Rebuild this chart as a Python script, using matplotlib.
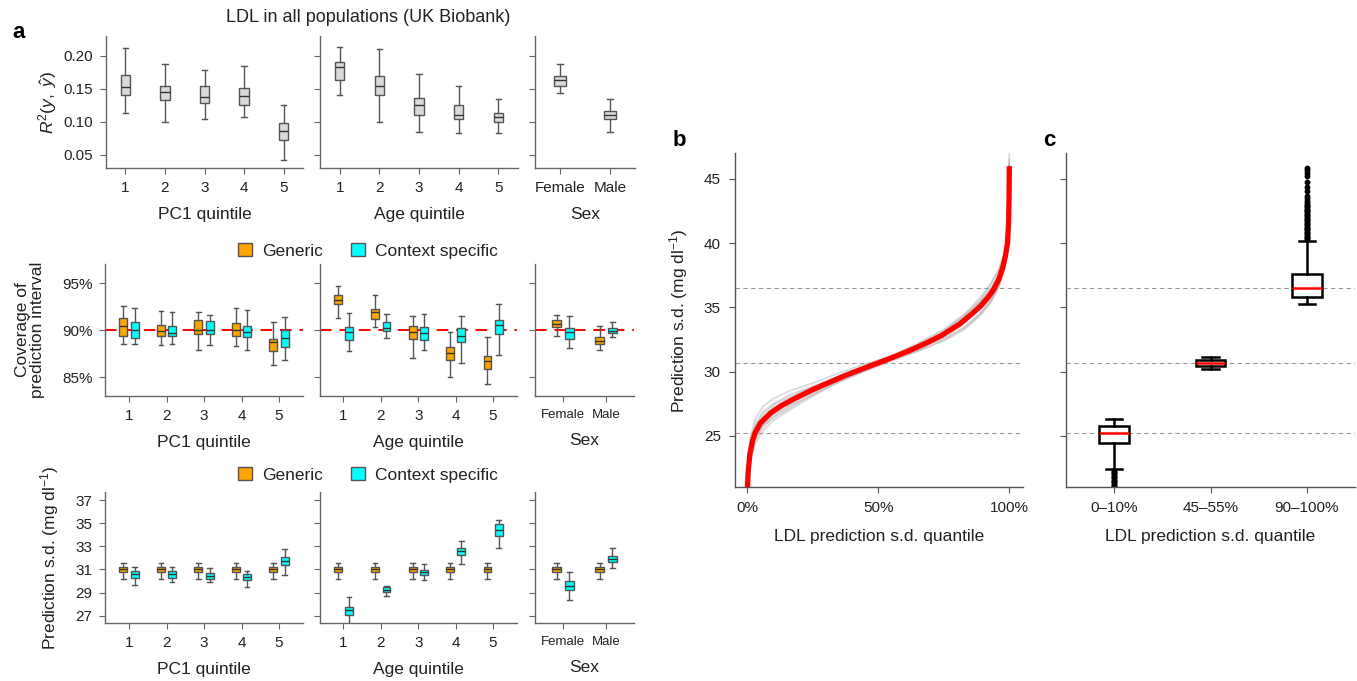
import matplotlib
matplotlib.use('Agg')
import matplotlib.pyplot as plt
from matplotlib.patches import Patch
import numpy as np

plt.rcParams['font.family'] = ['Liberation Sans', 'DejaVu Sans']
plt.rcParams['mathtext.fontset'] = 'custom'
plt.rcParams['mathtext.rm'] = 'Liberation Sans'
plt.rcParams['mathtext.it'] = 'Liberation Sans:italic'

# ---------------------------- data ----------------------------------------
# each row: whisker low, q1, median, q3, whisker high
quintiles = ['1', '2', '3', '4', '5']
sexes = ['Female', 'Male']

r2_pc1 = [[0.114, 0.141, 0.152, 0.171, 0.212],
          [0.099, 0.133, 0.145, 0.155, 0.188],
          [0.104, 0.129, 0.137, 0.155, 0.178],
          [0.108, 0.126, 0.139, 0.151, 0.184],
          [0.042, 0.072, 0.086, 0.098, 0.125]]
r2_age = [[0.141, 0.164, 0.183, 0.191, 0.214],
          [0.099, 0.140, 0.155, 0.169, 0.210],
          [0.084, 0.110, 0.126, 0.136, 0.172],
          [0.083, 0.104, 0.111, 0.125, 0.155],
          [0.083, 0.099, 0.107, 0.114, 0.134]]
r2_sex = [[0.144, 0.155, 0.164, 0.170, 0.187],
          [0.085, 0.104, 0.111, 0.117, 0.134]]

cov_pc1_gen = [[88.5, 89.4, 90.4, 91.35, 92.6],
               [88.4, 89.4, 89.9, 90.55, 92.0],
               [87.85, 89.55, 90.05, 91.05, 91.9],
               [88.3, 89.4, 90.05, 90.75, 92.35],
               [86.3, 87.75, 88.75, 89.1, 90.9]]
cov_pc1_ctx = [[88.5, 89.2, 90.0, 90.9, 92.35],
               [88.55, 89.35, 89.75, 90.5, 91.9],
               [88.4, 89.6, 90.05, 90.95, 91.6],
               [87.9, 89.25, 89.8, 90.5, 92.2],
               [86.8, 88.25, 89.15, 90.0, 91.4]]
cov_age_gen = [[91.35, 92.75, 93.2, 93.8, 94.7],
               [90.3, 91.2, 91.9, 92.3, 93.8],
               [87.0, 89.05, 89.8, 90.4, 91.5],
               [85.0, 86.8, 87.55, 88.2, 89.85],
               [84.25, 85.85, 86.75, 87.25, 89.3]]
cov_age_ctx = [[87.75, 88.95, 89.8, 90.3, 91.8],
               [89.15, 89.95, 90.25, 90.9, 91.75],
               [87.9, 88.95, 89.75, 90.35, 91.75],
               [86.55, 88.7, 89.35, 90.2, 91.55],
               [87.4, 89.6, 90.55, 91.1, 92.75]]
cov_sex_gen = [[89.35, 90.3, 90.65, 91.1, 91.6],
               [87.95, 88.5, 88.85, 89.3, 90.5]]
cov_sex_ctx = [[88.15, 89.05, 89.85, 90.25, 91.5],
               [89.25, 89.7, 89.95, 90.2, 90.9]]
nominal_coverage = 90

sd_pc1_gen = [[30.2, 30.8, 31.0, 31.2, 31.55],
              [30.2, 30.8, 31.0, 31.2, 31.55],
              [30.2, 30.8, 31.0, 31.2, 31.55],
              [30.2, 30.8, 31.0, 31.2, 31.55],
              [30.2, 30.8, 31.0, 31.2, 31.55]]
sd_pc1_ctx = [[29.65, 30.3, 30.6, 30.85, 31.2],
              [29.9, 30.3, 30.6, 30.9, 31.2],
              [29.9, 30.2, 30.45, 30.7, 31.15],
              [29.5, 30.05, 30.35, 30.6, 30.9],
              [30.5, 31.35, 31.75, 32.05, 32.75]]
sd_age_gen = [[30.2, 30.8, 31.0, 31.2, 31.55],
              [30.2, 30.8, 31.0, 31.2, 31.55],
              [30.2, 30.8, 31.0, 31.2, 31.55],
              [30.2, 30.8, 31.0, 31.2, 31.55],
              [30.2, 30.8, 31.0, 31.2, 31.55]]
sd_age_ctx = [[26.3, 27.1, 27.45, 27.75, 28.6],
              [28.7, 29.05, 29.25, 29.45, 29.6],
              [30.05, 30.55, 30.78, 30.98, 31.5],
              [31.45, 32.25, 32.55, 32.85, 33.5],
              [32.85, 33.85, 34.4, 34.95, 35.3]]
sd_sex_gen = [[30.2, 30.8, 31.0, 31.2, 31.55],
              [30.2, 30.8, 31.0, 31.2, 31.55]]
sd_sex_ctx = [[28.35, 29.25, 29.6, 30.0, 30.8],
              [31.15, 31.65, 31.9, 32.15, 32.85]]

# panel b: quantile curve of prediction s.d. (red) and replicate curves (grey)
q_red = [0.0, 0.003, 0.01, 0.02, 0.03, 0.05, 0.09, 0.13, 0.18, 0.25, 0.30, 0.38, 0.44,
         0.50, 0.56, 0.62, 0.68, 0.74, 0.81, 0.86, 0.89, 0.92, 0.94, 0.96, 0.975,
         0.985, 0.993, 0.997, 0.999, 1.0]
sd_red = [20.5, 22.1, 23.6, 24.6, 25.25, 26.0, 26.8, 27.35, 27.9, 28.6, 29.05, 29.75, 30.22,
          30.68, 31.15, 31.65, 32.2, 32.8, 33.7, 34.55, 35.1, 35.8, 36.4, 37.2, 38.1,
          39.0, 40.0, 41.5, 43.5, 46.0]
q_grey = [0.0, 0.01, 0.03, 0.06, 0.10, 0.16, 0.25, 0.35, 0.45, 0.55, 0.65, 0.75, 0.83,
          0.89, 0.93, 0.96, 0.98, 0.99, 0.997, 1.0]
grey_curves = [
    [21.3, 24.7, 26.3, 27.3, 27.9, 28.5, 29.1, 29.9, 30.6, 31.2, 31.8, 32.6, 33.5, 34.6, 35.6, 36.7, 38.0, 39.0, 40.6, 45.0],
    [20.7, 22.9, 24.4, 25.4, 26.2, 27.0, 28.1, 29.2, 30.1, 31.0, 31.95, 33.1, 34.35, 35.6, 36.8, 37.9, 39.0, 39.9, 41.5, 46.0],
    [21.0, 23.9, 25.5, 26.5, 27.2, 27.9, 28.75, 29.7, 30.45, 31.2, 32.0, 33.05, 34.2, 35.4, 36.4, 37.4, 38.6, 39.5, 41.0, 46.0],
    [20.9, 23.2, 24.8, 25.8, 26.5, 27.3, 28.2, 29.2, 30.05, 30.8, 31.6, 32.5, 33.4, 34.5, 35.5, 36.7, 38.2, 39.1, 40.5, 45.5],
    [21.2, 24.3, 25.9, 26.9, 27.5, 28.2, 28.85, 29.6, 30.3, 30.95, 31.6, 32.4, 33.3, 34.4, 35.4, 36.6, 38.0, 38.9, 40.4, 45.0],
    [20.8, 23.4, 25.0, 25.9, 26.65, 27.4, 28.4, 29.5, 30.45, 31.25, 32.2, 33.3, 34.5, 35.8, 36.9, 38.0, 39.2, 40.1, 41.8, 47.5],
    [21.0, 23.8, 25.4, 26.4, 27.1, 27.8, 28.65, 29.6, 30.4, 31.1, 31.9, 32.9, 34.0, 35.2, 36.2, 37.3, 38.6, 39.5, 41.2, 46.0],
    [20.9, 23.5, 25.1, 26.1, 26.8, 27.55, 28.5, 29.45, 30.25, 30.95, 31.75, 32.75, 33.85, 35.0, 36.0, 37.1, 38.4, 39.3, 40.9, 45.8],
    [21.1, 24.1, 25.7, 26.7, 27.4, 28.05, 28.8, 29.65, 30.35, 31.05, 31.85, 32.85, 34.05, 35.3, 36.4, 37.5, 38.7, 39.6, 41.1, 46.5],
    [20.8, 23.1, 24.7, 25.7, 26.4, 27.15, 28.25, 29.35, 30.3, 31.15, 32.1, 33.2, 34.4, 35.5, 36.5, 37.6, 38.9, 39.8, 41.4, 46.2],
]

# panel c: prediction s.d. within quantile bins
bins_c = ['0\u201310%', '45\u201355%', '90\u2013100%']
sd_bins = [[22.4, 24.45, 25.23, 25.8, 26.3],
           [30.2, 30.42, 30.68, 30.93, 31.14],
           [35.28, 35.8, 36.51, 37.6, 40.16]]
fliers_bins = [
    [22.3, 22.2, 22.1, 22.0, 21.9, 21.8, 21.7, 21.6, 21.5, 21.4, 21.3, 21.2, 21.1, 21.0, 20.9],
    [],
    [40.3, 40.4, 40.5, 40.6, 40.7, 40.8, 40.9, 41.0, 41.1, 41.2, 41.3, 41.4, 41.5, 41.6, 41.7,
     41.8, 41.9, 42.0, 42.1, 42.2, 42.3, 42.4, 42.5, 42.6, 42.7, 42.8, 42.9, 43.0, 43.1, 43.3,
     43.5, 43.65, 44.05, 44.4, 44.8, 45.2, 45.5, 45.7, 45.86],
]

# ---------------------------- style ---------------------------------------
W, H = 1357, 681
spine_gray = '#666666'
edge_gray = '#555555'
text_col = '#222222'
gen_col = '#FFA500'
ctx_col = '#00FFFF'
box_gray = '#d9d9d9'

fig = plt.figure(figsize=(W / 100, H / 100), dpi=100)


def add_ax(x0, y0, x1, y1):
    return fig.add_axes([x0 / W, 1 - y1 / H, (x1 - x0) / W, (y1 - y0) / H])


def to_stats(rows, fliers=None):
    out = []
    for i, r in enumerate(rows):
        out.append(dict(whislo=r[0], q1=r[1], med=r[2], q3=r[3], whishi=r[4],
                        fliers=fliers[i] if fliers else []))
    return out


def boxes(ax, rows, pos, face, width=0.21, capw=0.12):
    ax.bxp(to_stats(rows), positions=pos, widths=width, capwidths=capw,
           patch_artist=True, showfliers=False, manage_ticks=False,
           boxprops=dict(facecolor=face, edgecolor=edge_gray, linewidth=1.0),
           medianprops=dict(color='#333333', linewidth=1.0),
           whiskerprops=dict(color=edge_gray, linewidth=1.0),
           capprops=dict(color=edge_gray, linewidth=1.0))


def style_a(ax, xlim, ylim, labels, xlabel, yticks, ytl=None, xfs=11):
    for s in ['top', 'right']:
        ax.spines[s].set_visible(False)
    for s in ['left', 'bottom']:
        ax.spines[s].set_color(spine_gray)
        ax.spines[s].set_linewidth(1.0)
    ax.tick_params(colors=spine_gray, labelcolor=text_col, length=4, width=0.8,
                   labelsize=11, pad=5)
    ax.set_xlim(xlim)
    ax.set_ylim(ylim)
    ax.set_xticks(np.arange(1, len(labels) + 1))
    ax.set_xticklabels(labels, fontsize=xfs)
    ax.set_yticks(yticks)
    ax.set_yticklabels(ytl if ytl is not None else [])
    ax.set_xlabel(xlabel, fontsize=12.5, labelpad=9, color=text_col)


q5 = np.arange(1, 6)
s2 = np.arange(1, 3)
dodge = 0.15

#---------------------------- a: R2 row -----------------------------------
ax1 = add_ax(105.7, 36, 303.3, 168)
ax2 = add_ax(320, 36, 518, 168)
ax3 = add_ax(535, 36, 635, 168)
r2_ticks = [0.05, 0.10, 0.15, 0.20]
for ax, rows, labs, xl, lim in [(ax1, r2_pc1, quintiles, 'PC1 quintile', (0.5, 5.5)),
                                (ax2, r2_age, quintiles, 'Age quintile', (0.5, 5.5)),
                                (ax3, r2_sex, sexes, 'Sex', (0.5, 2.5))]:
    boxes(ax, rows, np.arange(1, len(rows) + 1), box_gray, width=0.23, capw=0.13)
    style_a(ax, lim, (0.03, 0.23), labs, xl, r2_ticks,
            ['%.2f' % t for t in r2_ticks] if ax is ax1 else None)
fig.text(48 / W, 1 - 102 / H, r'$R^2(y,\ \hat{y})$', rotation=90, ha='center',
         va='center', fontsize=12.5, color=text_col)

#---------------------------- a: coverage row -----------------------------
bx1 = add_ax(105, 264.5, 303, 396)
bx2 = add_ax(319.5, 264.5, 517, 396)
bx3 = add_ax(535, 264.5, 634, 396)
cov_ticks = [85, 90, 95]
for ax, g, c, labs, xl, lim, pos in [
        (bx1, cov_pc1_gen, cov_pc1_ctx, quintiles, 'PC1 quintile', (0.36, 5.64), q5),
        (bx2, cov_age_gen, cov_age_ctx, quintiles, 'Age quintile', (0.36, 5.64), q5),
        (bx3, cov_sex_gen, cov_sex_ctx, sexes, 'Sex', (0.35, 2.65), s2)]:
    ax.axhline(nominal_coverage, color='red', lw=1.4, dashes=(6, 4), zorder=1.5)
    boxes(ax, g, pos - dodge, gen_col)
    boxes(ax, c, pos + dodge, ctx_col)
    style_a(ax, lim, (83, 97), labs, xl, cov_ticks,
            ['%d%%' % t for t in cov_ticks] if ax is bx1 else None,
            xfs=9.5 if ax is bx3 else 11)
fig.text(30 / W, 1 - 330 / H, 'Coverage of\nprediction interval', rotation=90,
         ha='center', va='center', fontsize=12.5, color=text_col, linespacing=1.0)

#---------------------------- a: prediction s.d. row ----------------------
cx1 = add_ax(105, 492.3, 303, 623.3)
cx2 = add_ax(319.5, 492.3, 517, 623.3)
cx3 = add_ax(535, 492.3, 634, 623.3)
sd_ticks = [27, 29, 31, 33, 35, 37]
for ax, g, c, labs, xl, lim, pos in [
        (cx1, sd_pc1_gen, sd_pc1_ctx, quintiles, 'PC1 quintile', (0.36, 5.64), q5),
        (cx2, sd_age_gen, sd_age_ctx, quintiles, 'Age quintile', (0.36, 5.64), q5),
        (cx3, sd_sex_gen, sd_sex_ctx, sexes, 'Sex', (0.35, 2.65), s2)]:
    boxes(ax, g, pos - dodge, gen_col)
    boxes(ax, c, pos + dodge, ctx_col)
    style_a(ax, lim, (26.34, 37.67), labs, xl, sd_ticks,
            [str(t) for t in sd_ticks] if ax is cx1 else None,
            xfs=9.5 if ax is cx3 else 11)
fig.text(50 / W, 1 - 558 / H, 'Prediction s.d. (mg dl$^{-1}$)', rotation=90,
         ha='center', va='center', fontsize=12.5, color=text_col)

# legends above the two lower rows
handles = [Patch(facecolor=gen_col, edgecolor=edge_gray, label='Generic'),
           Patch(facecolor=ctx_col, edgecolor=edge_gray, label='Context specific')]
for yy in [251, 475]:
    fig.legend(handles=handles, loc='center', bbox_to_anchor=(368 / W, 1 - yy / H),
               ncol=2, frameon=False, fontsize=12.5, handlelength=0.8, handleheight=0.8,
               handletextpad=0.6, columnspacing=1.6, borderpad=0, labelcolor=text_col)

#---------------------------- b -------------------------------------------
axb = add_ax(734.7, 153.3, 1022.7, 487.3)
for med in [r[2] for r in sd_bins]:
    axb.axhline(med, color='#9a9a9a', lw=0.8, dashes=(4, 3), zorder=1)
for curve in grey_curves:
    axb.plot(q_grey, curve, color='#999999', alpha=0.35, lw=1.3, zorder=2)
axb.plot(q_red, sd_red, color='red', lw=3.8, solid_capstyle='butt', zorder=3)
axb.set_xlim(-0.048, 1.051)
axb.set_ylim(21, 47)
axb.set_xticks([0, 0.5, 1])
axb.set_xticklabels(['0%', '50%', '100%'])
axb.set_yticks([25, 30, 35, 40, 45])
axb.set_xlabel('LDL prediction s.d. quantile', fontsize=12.5, labelpad=10, color=text_col)
axb.set_ylabel('Prediction s.d. (mg dl$^{-1}$)', fontsize=12.5, labelpad=10, color=text_col)

#---------------------------- c -------------------------------------------
axc = add_ax(1066, 153.3, 1355, 487.3)
for med in [r[2] for r in sd_bins]:
    axc.axhline(med, color='#9a9a9a', lw=0.8, dashes=(4, 3), zorder=1)
axc.bxp(to_stats(sd_bins, fliers_bins), positions=[1, 2, 3], widths=0.31, capwidths=0.17,
        patch_artist=True, showfliers=True, manage_ticks=False,
        boxprops=dict(facecolor='white', edgecolor='black', linewidth=1.8),
        medianprops=dict(color='red', linewidth=1.8),
        whiskerprops=dict(color='black', linewidth=1.8),
        capprops=dict(color='black', linewidth=1.8),
        flierprops=dict(marker='o', markersize=3.2, markerfacecolor='black',
                        markeredgecolor='black'))
axc.set_xlim(0.5, 3.5)
axc.set_ylim(21, 47)
axc.set_xticks([1, 2, 3])
axc.set_xticklabels(bins_c)
axc.set_yticks([25, 30, 35, 40, 45])
axc.set_yticklabels([])
axc.set_xlabel('LDL prediction s.d. quantile', fontsize=12.5, labelpad=10, color=text_col)

for ax in [axb, axc]:
    for s in ['top', 'right']:
        ax.spines[s].set_visible(False)
    for s in ['left', 'bottom']:
        ax.spines[s].set_color('#555555')
        ax.spines[s].set_linewidth(1.0)
    ax.tick_params(colors='#555555', labelcolor=text_col, length=4, width=0.8,
                   labelsize=11, pad=6)

#---------------------------- panel letters / title -----------------------
fig.text(368 / W, 1 - 18 / H, 'LDL in all populations (UK Biobank)', ha='center',
         va='center', fontsize=13, color=text_col)
fig.text(12 / W, 1 - 33 / H, 'a', fontsize=16, fontweight='bold', va='center')
fig.text(673 / W, 1 - 140 / H, 'b', fontsize=16, fontweight='bold', va='center')
fig.text(1043 / W, 1 - 140 / H, 'c', fontsize=16, fontweight='bold', va='center')

fig.savefig('out.png', dpi=100)
plt.close()
